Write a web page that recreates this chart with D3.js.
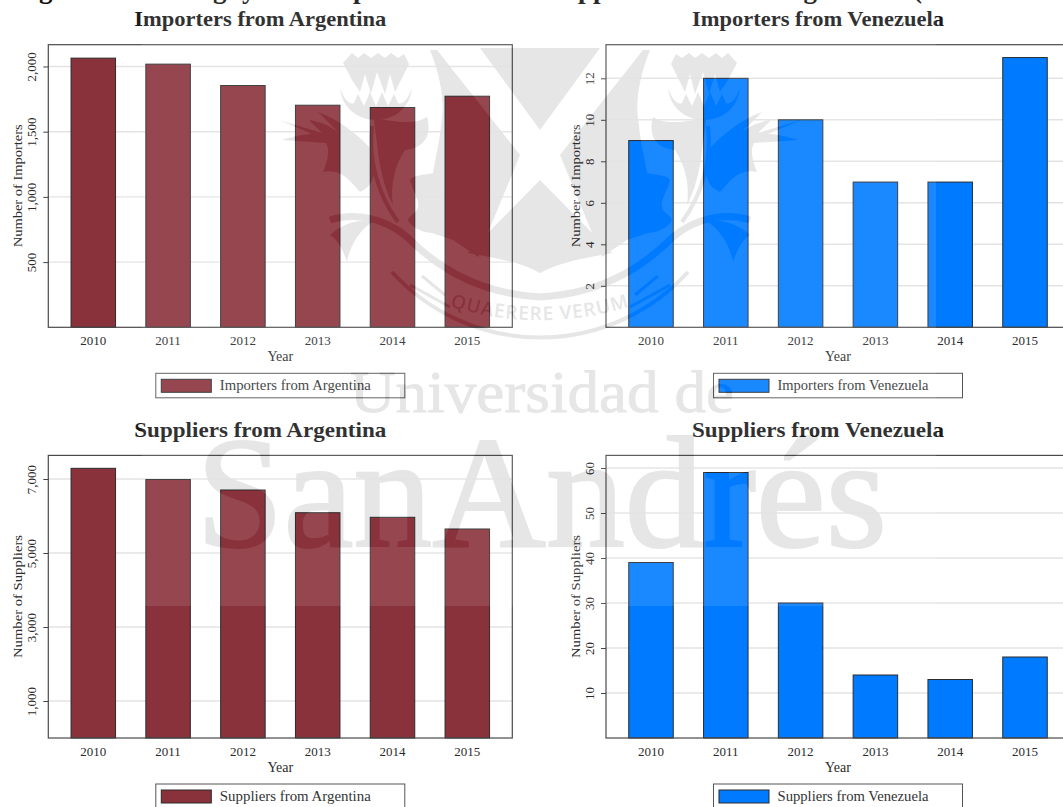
<!DOCTYPE html>
<html><head><meta charset="utf-8">
<script src="https://cdn.jsdelivr.net/npm/d3@7/dist/d3.min.js"></script>
<style>html,body{margin:0;padding:0;background:#fff;overflow:hidden}svg{display:block}text{font-family:"Liberation Serif",serif}</style>
</head><body><script>
const years = ["2010","2011","2012","2013","2014","2015"];
const importersArgentina = [2064,2018,1854,1703,1685,1772];
const importersVenezuela = [9,12,10,7,7,13];
const suppliersArgentina = [7289,6986,6703,6089,5965,5649];
const suppliersVenezuela = [39,59,30,14,13,18];
const ticksImpArg = [500,1000,1500,2000];
const ticksImpVen = [2,4,6,8,10,12];
const ticksSupArg = [1000,3000,5000,7000];
const ticksSupVen = [10,20,30,40,50,60];
const titleArg1 = "Importers from Argentina", titleVen1 = "Importers from Venezuela";
const titleArg2 = "Suppliers from Argentina", titleVen2 = "Suppliers from Venezuela";
const maroon = "#8a323c", blue = "#007bff";

const W = 1063, H = 807;
const svg = d3.select("body").append("svg").attr("width",W).attr("height",H);
svg.append("rect").attr("width",W).attr("height",H).attr("fill","#fff");
const defs = svg.append("defs");

/* ---------- watermark artwork (decoration, not data) ---------- */
const wm = defs.append("g").attr("id","wm");
const fillPaths = [
 "M480,48 L600,48 L540,130 Z",
 "M540,180 L612,253 C585,258 560,262 540,273 C520,262 495,258 468,253 Z"
];
const thistle = [
 "M430,50 L437,50 L520,155 L478,257 L453,240 L432,233 C420,232 410,226 408,220 C410,214 418,212 418,207 C420,200 412,190 410,180 C412,175 425,175 433,173 C436,155 440,140 441,125 C445,105 442,80 430,50 Z",
 "M343,63 L352,53 L358,58 L364,53 L371,58 L378,53 L385,58 L391,53 L398,58 L404,54 L409,64 L401,80 L395,92 L390,74 L385,94 L377,72 L371,94 L365,74 L360,92 L352,80 Z",
 "M340,88 C342,108 358,120 376,120 C394,120 410,108 412,88 C408,100 402,105 398,103 L394,94 L388,106 L382,92 L376,106 L370,92 L364,106 L358,94 L354,103 C350,105 344,100 340,88 Z",
 "M374,118 C395,122 415,125 427,117 C432,135 425,148 405,150 C395,165 390,185 393,205 C385,190 382,175 379,160 C 377,140 374,125 374,118 Z",
 "M279,120 L322,133 L309,120 C322,122 330,126 338,132 L318,112 C340,120 358,135 372,150 C376,170 376,185 360,192 C350,180 340,168 323,172 C328,160 330,150 326,143 L282,140 C295,136 305,134 312,134 Z",
 "M330,235 C340,225 360,218 372,222 C360,230 350,245 347,262 C343,250 338,240 330,235 Z"
];
const thistleStroke = [
 {d:"M330,220 C355,212 385,218 407,237 C430,260 470,293 540,297", w:7},
 {d:"M372,126 C368,160 378,195 398,222", w:4},
 {d:"M422,276 L445,295", w:3},
 {d:"M410,285 L450,307", w:3}
];
fillPaths.forEach(d => wm.append("path").attr("d",d).attr("stroke","none"));
const mirror = [wm.append("g"), wm.append("g").attr("transform","translate(1080,0) scale(-1,1)")];
mirror.forEach(g=>{
  thistle.forEach(d => g.append("path").attr("d",d).attr("stroke","none"));
  thistleStroke.forEach(s => g.append("path").attr("d",s.d).attr("fill","none").attr("stroke-width",s.w));
});
wm.append("path").attr("d","M392,272 A200,200 0 0 0 688,272").attr("fill","none").attr("stroke-width",4);
defs.append("path").attr("id","motto").attr("d","M440,303 A300,300 0 0 0 640,303");
wm.append("text").attr("font-size",19).attr("font-weight",600).attr("stroke","none").style("font-family","'Open Sans',sans-serif")
  .attr("letter-spacing",1)
  .append("textPath").attr("href","#motto").attr("startOffset","50%").attr("text-anchor","middle").text("QUAERERE VERUM");
wm.append("text").attr("x",350).attr("y",411.5).attr("font-size",60).attr("stroke-width",0.8)
  .attr("textLength",384).attr("lengthAdjust","spacingAndGlyphs").text("Universidad de");
wm.append("text").attr("x",196).attr("y",546).attr("font-size",158).attr("stroke-width",2.2)
  .attr("textLength",691).attr("lengthAdjust","spacingAndGlyphs").text("SanAndrés");

const mask = defs.append("mask").attr("id","wmHole").attr("maskUnits","userSpaceOnUse")
  .attr("x",0).attr("y",0).attr("width",W).attr("height",H);
mask.append("rect").attr("width",W).attr("height",H).attr("fill","#fff");
mask.append("use").attr("href","#wm").attr("fill","#000").attr("stroke","#000");

svg.append("use").attr("href","#wm").attr("fill","#e6e6e6").attr("stroke","#e6e6e6");

/* ---------- figure heading, cut by the page edge ---------- */
const head = svg.append("text").attr("y",-2).attr("font-size",27).attr("font-weight","bold").attr("fill","#111");
[["Figure",15],["Change",150],["by",227],["Importers",320],["and",468],["Suppliers",548],["from",680],["Argentina",772],["(",913]]
 .forEach(([t,x]) => head.append("tspan").attr("x",x).text(t));

/* ---------- panels ---------- */
function panel(o){
  const g = svg.append("g");
  const y = d3.scaleLinear().domain([0,o.ymax]).range([o.bottom,o.bottom-282.6]);
  const x = d3.scaleBand().domain(years).range([o.left,o.left+464]).paddingInner(0.405).paddingOuter(0.304);
  // gridlines
  g.append("g").selectAll("line").data(o.ticks).join("line")
    .attr("x1",o.left).attr("x2",o.left+464).attr("y1",d=>y(d)).attr("y2",d=>y(d))
    .attr("stroke","#e3e3e3").attr("stroke-width",1.4);
  // bars
  g.append("g").selectAll("rect").data(o.values).join("rect")
    .attr("x",(d,i)=>x(years[i])).attr("width",x.bandwidth())
    .attr("y",d=>y(d)).attr("height",d=>o.bottom-y(d))
    .attr("fill",o.color).attr("stroke","#2b2b2b").attr("stroke-width",1);
  // frame
  g.append("rect").attr("x",o.left).attr("y",o.bottom-282.6).attr("width",464).attr("height",282.6)
    .attr("fill","none").attr("stroke","#4a4a4a").attr("stroke-width",1.2);
  // y axis
  const ya = g.append("g").attr("transform",`translate(${o.left},0)`)
    .call(d3.axisLeft(y).tickValues(o.ticks).tickSize(5).tickPadding(3).tickFormat(d3.format(",")));
  ya.select(".domain").remove();
  ya.selectAll(".tick line").attr("stroke","#444").attr("stroke-width",1);
  ya.selectAll(".tick text").attr("transform",function(d){return `translate(-3.5,0) rotate(-90)`;})
    .attr("x",0).attr("y",-9).attr("dy",0).attr("text-anchor","middle")
    .style("font-size","13px").style("font-family","'Liberation Serif',serif").attr("fill","#2b2b2b");
  // x axis
  const xa = g.append("g").attr("transform",`translate(0,${o.bottom})`)
    .call(d3.axisBottom(x).tickSize(0).tickPadding(10));
  xa.select(".domain").remove();
  xa.selectAll(".tick text").attr("dy",0).attr("y",17.5)
    .style("font-size","13px").style("font-family","'Liberation Serif',serif").attr("fill","#2b2b2b");
  // axis titles
  g.append("text").attr("x",o.left+232).attr("y",o.bottom+34).attr("text-anchor","middle")
    .attr("font-size",14).attr("fill","#2b2b2b").text("Year");
  g.append("text").attr("transform",`translate(${o.left-26},${o.bottom-141.5}) rotate(-90)`).attr("text-anchor","middle")
    .attr("font-size",13.5).attr("fill","#2b2b2b").attr("textLength",123).attr("lengthAdjust","spacingAndGlyphs").text(o.ylabel);
  // panel title
  g.append("text").attr("x",o.left+212).attr("y",o.bottom-301).attr("text-anchor","middle")
    .attr("font-size",22).attr("font-weight","bold").attr("fill","#1a1a1a")
    .attr("textLength",252).attr("lengthAdjust","spacingAndGlyphs").text(o.title);
  // legend
  const lx = o.left+107.5, ly = o.bottom+46;
  g.append("rect").attr("x",lx).attr("y",ly).attr("width",249).attr("height",24.5)
    .attr("fill","none").attr("stroke","#555").attr("stroke-width",1);
  g.append("rect").attr("x",lx+5.5).attr("y",ly+6).attr("width",50).attr("height",13)
    .attr("fill",o.color).attr("stroke","#2b2b2b").attr("stroke-width",1);
  g.append("text").attr("x",lx+64).attr("y",ly+17).attr("font-size",14).attr("fill","#333")
    .attr("textLength",151).attr("lengthAdjust","spacingAndGlyphs").text(o.title);
}
panel({left:48.3,bottom:327.3,ymax:2167,ticks:ticksImpArg,values:importersArgentina,color:maroon,ylabel:"Number of Importers",title:titleArg1});
panel({left:606,bottom:327.3,ymax:13.62,ticks:ticksImpVen,values:importersVenezuela,color:blue,ylabel:"Number of Importers",title:titleVen1});
panel({left:48.3,bottom:738,ymax:7638,ticks:ticksSupArg,values:suppliersArgentina,color:maroon,ylabel:"Number of Suppliers",title:titleArg2});
panel({left:606,bottom:738,ymax:62.8,ticks:ticksSupVen,values:suppliersVenezuela,color:blue,ylabel:"Number of Suppliers",title:titleVen2});

/* ---------- translucent watermark sheet, knocked out where the artwork is ---------- */
svg.append("rect").attr("x",142).attr("y",0).attr("width",794).attr("height",606)
  .attr("fill","#fff").attr("fill-opacity",0.1).attr("mask","url(#wmHole)");
</script></body></html>
